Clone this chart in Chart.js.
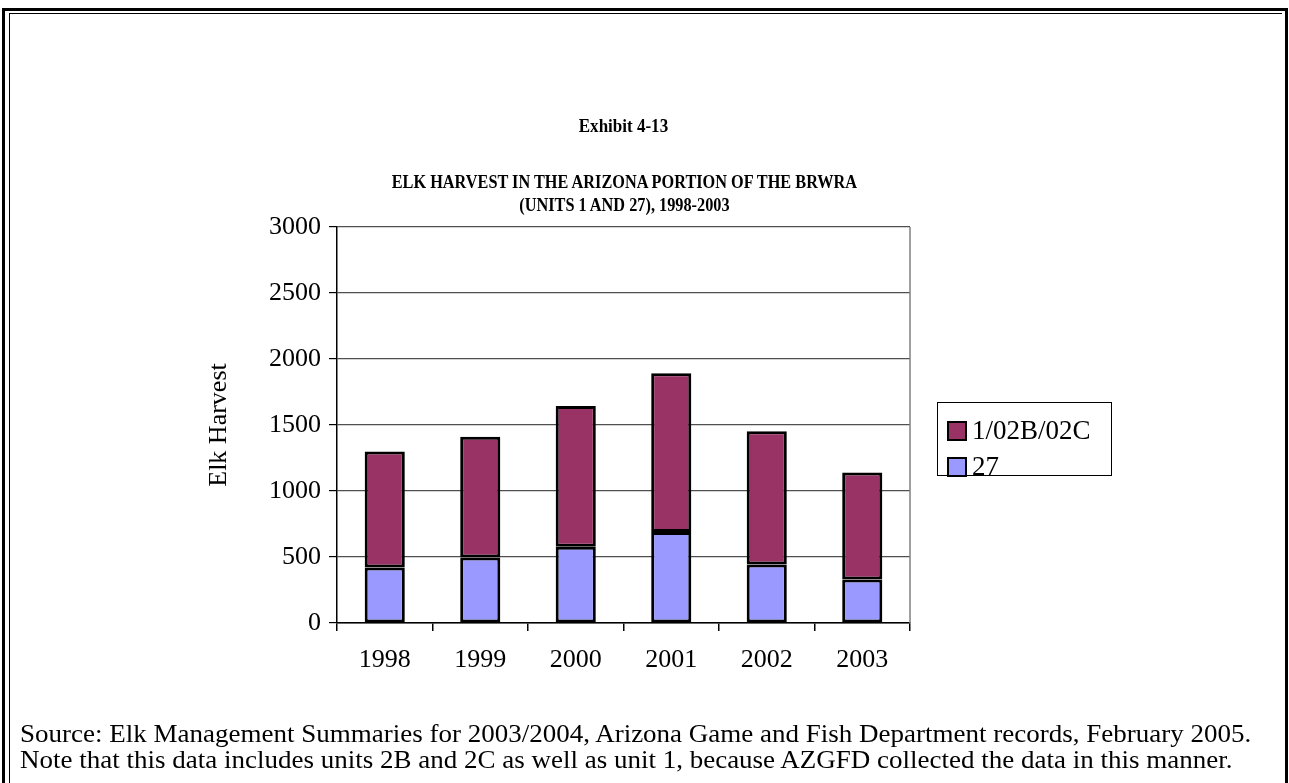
<!DOCTYPE html>
<html>
<head>
<meta charset="utf-8">
<script src="https://cdn.jsdelivr.net/npm/chart.js@4"></script>
<style>
    body { margin: 0; background: #fff; font-family: 'Liberation Serif', 'Times New Roman', serif; }
    #page { position: relative; width: 1289px; height: 783px; overflow: hidden; }
    #frame_outer { position: absolute; left: 2px; top: 8px; width: 1286px; height: 790px; border-top: 3px solid #000; border-left: 3px solid #000; border-right: 3px solid #000; box-sizing: border-box; }
    #frame_inner { position: absolute; left: 9px; top: 13px; width: 1273px; height: 790px; border-top: 1px solid #000; border-left: 1px solid #000; box-sizing: border-box; }
    canvas { position: absolute; left: 0; top: 0; }
    .txt { position: absolute; color: #000; white-space: nowrap; }
    #exhibit { left: 0; width: 1247px; top: 116px; text-align: center; font-weight: bold; font-size: 18.5px; transform: scaleX(0.92); transform-origin: 623px 0; }
    #title { left: 0; width: 1249px; top: 171px; text-align: center; font-weight: bold; font-size: 18.5px; line-height: 23px; transform: scaleX(0.88); transform-origin: 624px 0; }
    #note { left: 20px; top: 721px; font-size: 25px; line-height: 26px; transform: scaleX(1.08); transform-origin: 0 0; }
    #legend { position: absolute; left: 937px; top: 402px; width: 175px; height: 74px; border: 1px solid #000; box-sizing: border-box; background: #fff; }
    .leg_item { position: absolute; left: 9px; font-size: 27px; line-height: 27px; }
    .leg_item span { display: inline-block; width: 16px; height: 16px; border: 2px solid #000; vertical-align: -2px; margin-right: 5px; }
</style>
</head>
<body>
<div id="page">
    <div id="frame_outer"></div>
    <div id="frame_inner"></div>
    <canvas id="elk_chart" width="1289" height="783"></canvas>
    <div class="txt" id="exhibit">Exhibit 4-13</div>
    <div class="txt" id="title">ELK HARVEST IN THE ARIZONA PORTION OF THE BRWRA<br>(UNITS 1 AND 27), 1998-2003</div>
    <div id="legend"></div>
    <div class="txt" id="note">Source: Elk Management Summaries for 2003/2004, Arizona Game and Fish Department records, February 2005.<br>Note that this data includes units 2B and 2C as well as unit 1, because AZGFD collected the data in this manner.</div>
</div>
<script>
    var years = ['1998', '1999', '2000', '2001', '2002', '2003']
    // unit 27 (bottom of the stack)
    var unit_27 = [420, 496, 577, 690, 443, 329]
    // units 1 / 2B / 2C (top of the stack)
    var unit_1_02b_02c = [880, 915, 1067, 1202, 1009, 812]
    var y_ticks = [0, 500, 1000, 1500, 2000, 2500, 3000]

    var font_serif = 'Liberation Serif'

    // right edge of the plot is grey in the original
    var plot_frame = {
        id: 'plot_frame',
        afterDraw: function (chart) {
            var ctx = chart.ctx
            var a = chart.chartArea
            ctx.save()
            ctx.strokeStyle = '#808080'
            ctx.lineWidth = 1.5
            ctx.beginPath()
            ctx.moveTo(a.right, a.top)
            ctx.lineTo(a.right, a.bottom)
            ctx.stroke()
            ctx.restore()
        }
    }

    var ctx = document.getElementById('elk_chart')
    var elk_chart = new Chart(ctx, {
        type: 'bar',
        data: {
            labels: years,
            datasets: [
                {
                    label: '27',
                    data: unit_27,
                    backgroundColor: '#9999FF',
                    borderColor: '#000',
                    borderWidth: 3,
                    borderSkipped: false,
                },
                {
                    label: '1/02B/02C',
                    data: unit_1_02b_02c,
                    backgroundColor: '#993366',
                    borderColor: '#000',
                    borderWidth: 3,
                    borderSkipped: false,
                },
            ]
        },
        options: {
            responsive: false,
            animation: false,
            datasets: {
                bar: { categoryPercentage: 1, barPercentage: 0.42 }
            },
            layout: {
                padding: { left: 200, right: 379, top: 227, bottom: 110 }
            },
            plugins: {
                legend: { display: false },
                tooltip: { enabled: false }
            },
            scales: {
                x: {
                    stacked: true,
                    grid: {
                        offset: true,
                        drawOnChartArea: false,
                        tickLength: 8,
                        tickColor: '#000',
                        lineWidth: 1.5
                    },
                    border: { color: '#000', width: 1.5 },
                    ticks: {
                        color: '#000',
                        font: { family: font_serif, size: 26 },
                        padding: 14,
                        maxRotation: 0
                    },
                    afterFit: function (scale) { scale.height = 50 }
                },
                y: {
                    stacked: true,
                    min: 0,
                    max: 3000,
                    afterBuildTicks: function (scale) {
                        scale.ticks = y_ticks.map(function (v) { return { value: v } })
                    },
                    grid: {
                        color: '#505050',
                        lineWidth: 1.2,
                        tickLength: 8,
                        tickColor: '#000'
                    },
                    border: { color: '#000', width: 1.5 },
                    ticks: {
                        color: '#000',
                        font: { family: font_serif, size: 26 },
                        padding: 8,
                        callback: function (v) { return String(v) }
                    },
                    title: {
                        display: true,
                        text: 'Elk Harvest',
                        color: '#000',
                        font: { family: font_serif, size: 26 },
                        padding: { top: 4, bottom: 0 }
                    },
                    afterFit: function (scale) { scale.width = 337 - 200 }
                }
            }
        },
        plugins: [plot_frame]
    })

    // legend built from the chart's datasets, top series first
    var legend = document.getElementById('legend')
    elk_chart.data.datasets.slice().reverse().forEach(function (ds, i) {
        var item = document.createElement('div')
        item.className = 'leg_item'
        item.style.top = (14 + i * 36) + 'px'
        item.innerHTML = '<span style="background:' + ds.backgroundColor + '"></span>' + ds.label
        legend.appendChild(item)
    })
</script>
</body>
</html>
